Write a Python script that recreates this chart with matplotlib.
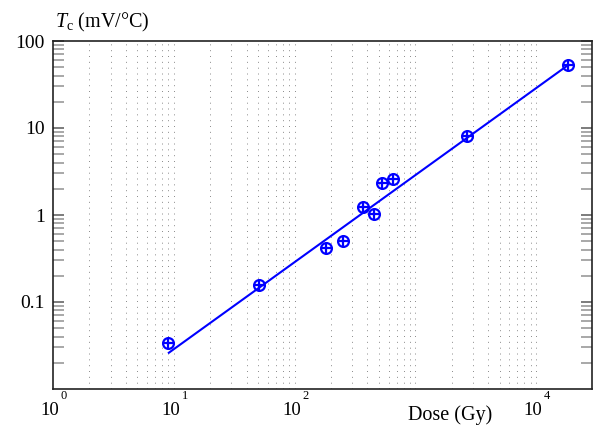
import numpy as np
import matplotlib
matplotlib.use("Agg")
import matplotlib.pyplot as plt
from matplotlib.ticker import FixedLocator, NullFormatter

plt.rcParams['font.family'] = ['Liberation Serif', 'DejaVu Serif']
plt.rcParams['mathtext.fontset'] = 'custom'
plt.rcParams['mathtext.rm'] = 'Liberation Serif'
plt.rcParams['mathtext.it'] = 'Liberation Serif:italic'

# measured points
dose = [9.0, 51, 182, 250, 372, 458, 526, 648, 2660, 18500]
tc = [0.034, 0.157, 0.414, 0.506, 1.22, 1.03, 2.33, 2.57, 8.15, 52.6]

# linear fit (slope 1 on log-log)
fit_dose = [9.1, 18400]
fit_tc = [0.0261, 52.9]

x_major = [1, 10, 100, 10000]
x_exponents = ['0', '1', '2', '4']
y_major = [0.1, 1, 10, 100]
y_labels = ['0.1', '1', '10', '100']

fig = plt.figure(figsize=(5.93, 4.26), dpi=100)
ax = fig.add_axes([53/593, 1-389/426, (592-53)/593, (389-41)/426])

ax.set_xscale('log')
ax.set_yscale('log')
ax.set_xlim(1, 2.9e4)
ax.set_ylim(0.01, 100)

# dotted vertical grid, only up to 1e4
grid_x = [m*10**e for e in range(0, 4) for m in range(2, 11)]
for gx in grid_x:
    ax.axvline(gx, color='#8a8a8a', lw=0.7, ls=(0, (1, 5)), zorder=0)

ax.plot(fit_dose, fit_tc, color='#0000ff', lw=1.5, zorder=2)
ax.plot(dose, tc, ls='none', marker='o', ms=7.8, mfc='none', mec='#0000ff', mew=1.6, zorder=3)
ax.plot(dose, tc, ls='none', marker='+', ms=7.8, mec='#0000ff', mew=1.6, zorder=3)

# x labels as 10 with a raised exponent
ax.xaxis.set_major_locator(FixedLocator([]))
ax.xaxis.set_minor_locator(FixedLocator([]))
for xv, ex in zip(x_major, x_exponents):
    ax.annotate('10', xy=(xv, 0), xycoords=('data', 'axes fraction'),
                xytext=(4.5, -19), textcoords='offset points',
                ha='right', va='baseline', fontsize=13.5)
    ax.annotate(ex, xy=(xv, 0), xycoords=('data', 'axes fraction'),
                xytext=(5.5, -7.5), textcoords='offset points',
                ha='left', va='baseline', fontsize=9)

ax.yaxis.set_major_locator(FixedLocator(y_major))
y_minor = [m*10**e for e in range(-2, 2) for m in range(2, 10)]
ax.yaxis.set_minor_locator(FixedLocator(y_minor))
ax.yaxis.set_minor_formatter(NullFormatter())
ax.set_yticklabels(y_labels, fontsize=14)
ax.tick_params(axis='y', which='both', direction='in', left=True, right=True,
               length=8, width=1.2, color='#999999', pad=6)
ax.tick_params(axis='y', which='major', color='#666666')

for s in ax.spines.values():
    s.set_linewidth(1.2)
    s.set_color('#222222')

fig.text(55/593, 1-27/426, r'$\mathit{T}_{\mathrm{c}}$ (mV/°C)', fontsize=14.5, ha='left', va='baseline')
fig.text(450/593, 1-420/426, 'Dose (Gy)', fontsize=14.5, ha='center', va='baseline')

fig.savefig('out.png', dpi=100)
